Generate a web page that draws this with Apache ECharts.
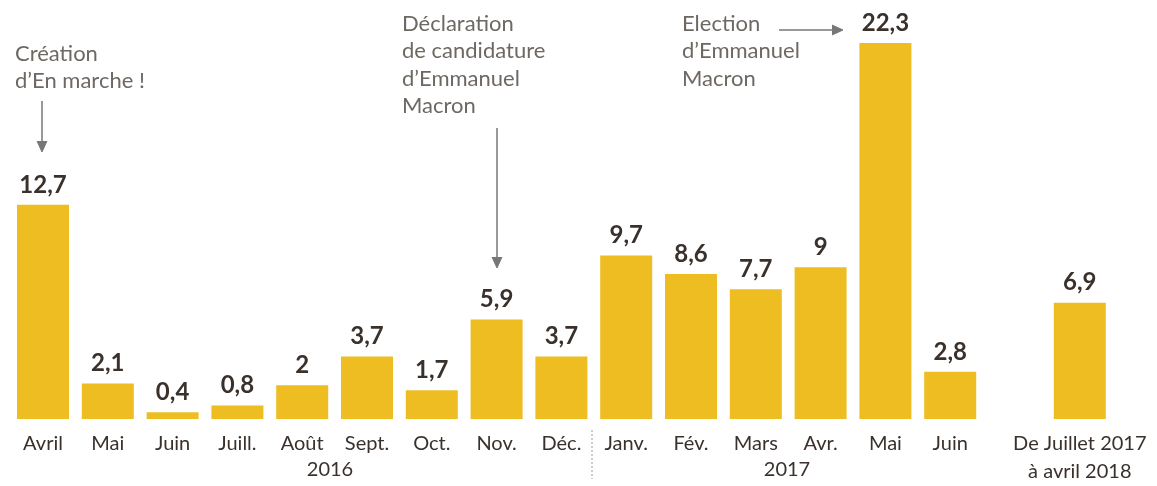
<!DOCTYPE html>
<html>
<head>
<meta charset="utf-8">
<script src="https://cdn.jsdelivr.net/npm/echarts@6/dist/echarts.min.js"></script>
<style>
html,body{margin:0;padding:0;background:#fff;}
#chart{width:1157px;height:486px;}
</style>
</head>
<body>
<div id="chart"></div>
<script>
const categories = ['Avril','Mai','Juin','Juill.','Août','Sept.','Oct.','Nov.','Déc.','Janv.','Fév.','Mars','Avr.','Mai ','Juin ','','De Juillet 2017\nà avril 2018'];
const values = [12.7, 2.1, 0.4, 0.8, 2, 3.7, 1.7, 5.9, 3.7, 9.7, 8.6, 7.7, 9, 22.3, 2.8, null, 6.9];
const yearLabels = ['2016', '2017'];
const annotationCreation = 'Création\nd’En marche !';
const annotationDeclaration = 'Déclaration\nde candidature\nd’Emmanuel\nMacron';
const annotationElection = 'Election\nd’Emmanuel\nMacron';

const FONT = 'Lato, "Open Sans", sans-serif';
const BAR = '#EDBD22';
const DARK = '#3a312c';
const GREY = '#6e6863';

const chart = echarts.init(document.getElementById('chart'));

const annStyle = {fill: GREY, font: '22px ' + FONT, lineHeight: 27.5};
const arrowLine = {stroke: '#777', lineWidth: 1.5};

chart.setOption({
  animation: false,
  grid: {left: 10.6, right: 44.8, top: 43, bottom: 66},
  xAxis: {
    type: 'category',
    data: categories,
    axisLine: {show: false},
    axisTick: {show: false},
    axisLabel: {
      interval: 0, margin: 11, color: DARK,
      fontFamily: FONT, fontSize: 20, lineHeight: 28,
      formatter: v => v.trim()
    }
  },
  yAxis: {type: 'value', min: 0, max: 22.3, show: false, splitLine: {show: false}},
  series: [{
    type: 'bar',
    data: values,
    barWidth: 52,
    itemStyle: {color: BAR},
    label: {
      show: true, position: 'top', distance: 8,
      color: DARK, fontFamily: FONT, fontWeight: 'bold', fontSize: 24,
      formatter: p => String(p.value).replace('.', ',')
    }
  }],
  graphic: [
    {type: 'text', left: 15, top: 40, style: Object.assign({text: annotationCreation}, annStyle)},
    {type: 'text', left: 402, top: 10, style: Object.assign({text: annotationDeclaration}, annStyle)},
    {type: 'text', left: 682, top: 10, style: Object.assign({text: annotationElection}, annStyle)},
    // arrow 1
    {type: 'line', shape: {x1: 42, y1: 101, x2: 42, y2: 150}, style: arrowLine},
    {type: 'polyline', shape: {points: [[37, 141], [42, 152], [47, 141]]}, style: {fill: '#777', stroke: '#777', lineWidth: 1}},
    // arrow 2
    {type: 'line', shape: {x1: 497, y1: 128, x2: 497, y2: 265}, style: arrowLine},
    {type: 'polyline', shape: {points: [[492, 257], [497, 268], [502, 257]]}, style: {fill: '#777', stroke: '#777', lineWidth: 1}},
    // arrow 3
    {type: 'line', shape: {x1: 779, y1: 30, x2: 840, y2: 30}, style: arrowLine},
    {type: 'polyline', shape: {points: [[832, 25], [843, 30], [832, 35]]}, style: {fill: '#777', stroke: '#777', lineWidth: 1}},
    // separator
    {type: 'line', shape: {x1: 592, y1: 430, x2: 592, y2: 479}, style: {stroke: '#999', lineWidth: 1, lineDash: [2, 2]}},
    // year labels
    {type: 'text', x: 330, y: 470, style: {text: yearLabels[0], fill: DARK, font: '20px ' + FONT, align: 'center', verticalAlign: 'middle'}},
    {type: 'text', x: 787, y: 470, style: {text: yearLabels[1], fill: DARK, font: '20px ' + FONT, align: 'center', verticalAlign: 'middle'}}
  ]
});
</script>
</body>
</html>
